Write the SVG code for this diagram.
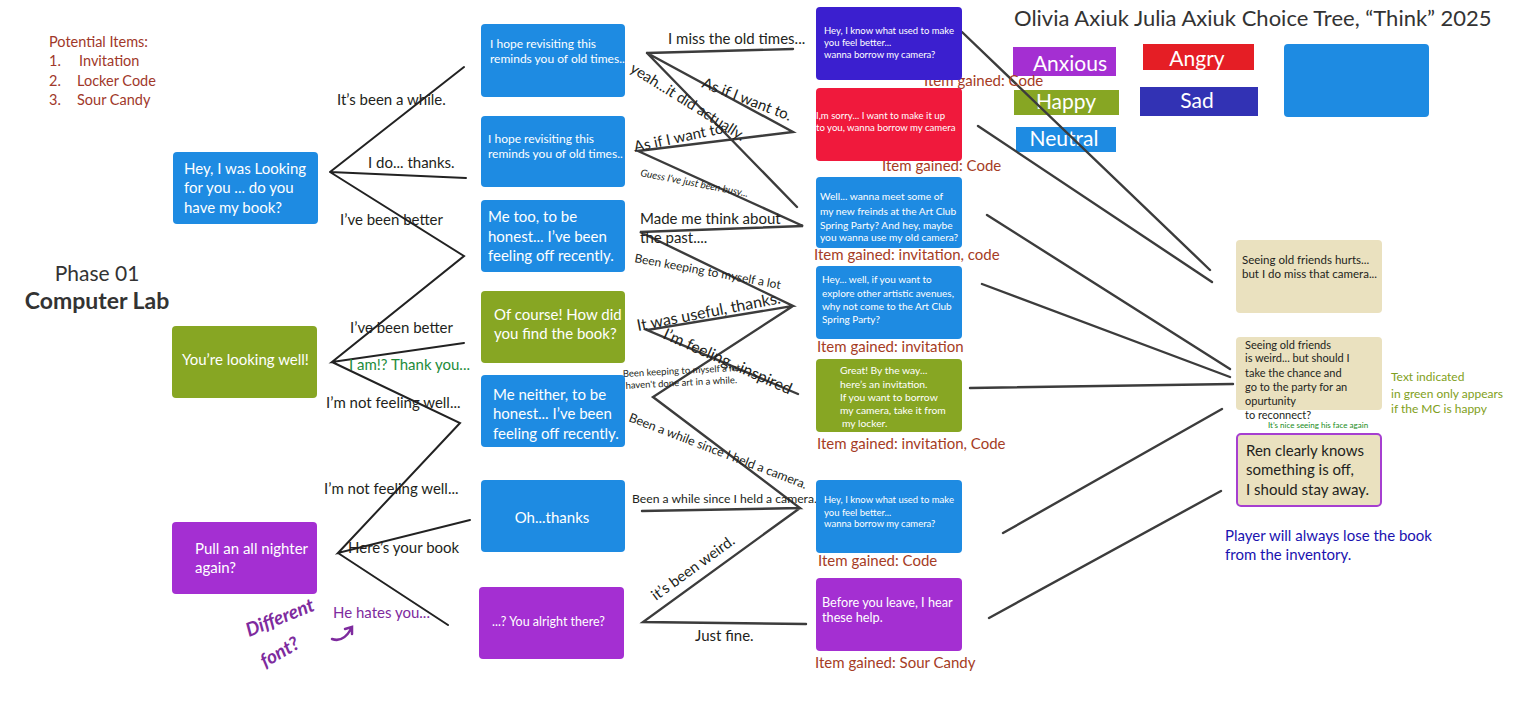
<svg xmlns="http://www.w3.org/2000/svg" width="1516" height="707" viewBox="0 0 1516 707">
<style>
text{font-family:Lato,"Liberation Sans",sans-serif;}
.bg{fill:#ffffff}
.blue{fill:#1E8BE2}
.green{fill:#87A623}
.purple{fill:#A42FD2}
.dblue{fill:#3B1FCF}
.red{fill:#F0193C}
.beige{fill:#EAE1BF}
.wt{fill:#ffffff}
.dk{fill:#231F20}
.item{fill:#A53C24;font-size:15px}
.ln{stroke:#222;stroke-width:2;fill:none;stroke-linecap:round}
.ln2{stroke:#3c3c3c;stroke-width:2.4;fill:none;stroke-linecap:round}
.lab{fill:#231F20;font-size:15px}
</style>
<rect class="bg" x="0" y="0" width="1516" height="707"/>

<g id="header">
<text x="1014" y="26" font-size="22" fill="#333">Olivia Axiuk Julia Axiuk Choice Tree, “Think” 2025</text>
</g>
<g id="legend">
<rect x="1013" y="47" width="103" height="29" class="purple"/>
<text x="1070" y="71" font-size="21" class="wt" text-anchor="middle">Anxious</text>
<rect x="1014" y="90" width="105" height="25" class="green"/>
<text x="1066" y="109" font-size="21" class="wt" text-anchor="middle">Happy</text>
<rect x="1016" y="127" width="100" height="25" class="blue"/>
<text x="1064" y="146" font-size="21" class="wt" text-anchor="middle">Neutral</text>
<rect x="1143" y="44" width="111" height="26" fill="#E51E25"/>
<text x="1197" y="66" font-size="21" class="wt" text-anchor="middle">Angry</text>
<rect x="1140" y="87" width="118" height="29" fill="#3232B4"/>
<text x="1197" y="108" font-size="21" class="wt" text-anchor="middle">Sad</text>
<rect x="1284" y="44" width="145" height="73" rx="4" class="blue"/>
</g>

<g id="notes">
<text font-size="14.5" fill="#A0382A"><tspan x="49" y="47">Potential Items:</tspan><tspan x="49" y="66">1.</tspan><tspan x="79" y="66">Invitation</tspan><tspan x="49" y="86">2.</tspan><tspan x="77" y="86">Locker Code</tspan><tspan x="49" y="105">3.</tspan><tspan x="77" y="105">Sour Candy</tspan></text>
<text x="97" y="281" font-size="21" fill="#333" text-anchor="middle">Phase 01</text>
<text x="97" y="309" font-size="23" font-weight="bold" fill="#333" text-anchor="middle">Computer Lab</text>
<text font-size="12" fill="#7FA020"><tspan x="1391" y="381">Text indicated</tspan><tspan x="1391" y="398">in green only appears</tspan><tspan x="1391" y="413">if the MC is happy</tspan></text>
<text font-size="15" fill="#1A12B0"><tspan x="1225" y="541">Player will always lose the book</tspan><tspan x="1225" y="560">from the inventory.</tspan></text>
<text x="249" y="637" font-size="19" font-style="italic" font-weight="bold" fill="#7E2B9E" font-family="DejaVu Sans, sans-serif" transform="rotate(-22 249 637)">Different</text>
<text x="265" y="668" font-size="19" font-style="italic" font-weight="bold" fill="#7E2B9E" font-family="DejaVu Sans, sans-serif" transform="rotate(-30 265 668)">font?</text>
<path d="M332,639 Q343,643 351,629 M345,629 L352,627 L352,634" stroke="#7E2B9E" stroke-width="2.5" fill="none" stroke-linecap="round"/>
</g>

<g id="connectors">
<path class="ln" d="M330,172 L464,67 M330,172 L466,178 M330,172 L464,256 L332,362 L464,343 M332,362 L460,423 L338,553 L470,520 M338,553 L448,625"/>
<path class="ln2" d="M647,53 L793,49 M647,53 L793,132 L638,151 L803,226 L640,232 L793,306 L647,330 L798,394 M647,53 L797,207 M793,306 L653,397 L800,508 L642,511 M800,508 L643,622 L806,624"/>
<path class="ln2" d="M962,32 L1210,270 M978,126 L1212,282 M987,215 L1230,369 M982,284 L1230,377 M970,388 L1233,384 M1003,533 L1222,409 M989,618 L1221,491"/>
</g>

<g id="labels">
<text class="lab" x="337" y="105">It’s been a while.</text>
<text class="lab" x="368" y="168">I do... thanks.</text>
<text class="lab" x="340" y="225">I’ve been better</text>
<text class="lab" x="350" y="333">I’ve been better</text>
<text class="lab" x="349" y="370" style="fill:#1E8B3A">I am!? Thank you...</text>
<text class="lab" x="326" y="408">I’m not feeling well...</text>
<text class="lab" x="324" y="494">I’m not feeling well...</text>
<text class="lab" x="348" y="553">Here’s your book</text>
<text class="lab" x="333" y="618" style="fill:#7E2B9E">He hates you...</text>

<text class="lab" x="668" y="44">I miss the old times...</text>
<text class="lab" x="701" y="87" transform="rotate(21 701 87)">As if I want to.</text>
<text class="lab" x="629" y="71" transform="rotate(32 629 71)">yeah...it did actually.</text>
<text class="lab" x="635" y="152" transform="rotate(-12 635 152)">As if I want to.</text>
<text x="640" y="176" font-size="10" font-style="italic" class="dk" transform="rotate(11 640 176)">Guess I’ve just been busy...</text>
<text class="lab"><tspan x="640" y="224">Made me think about</tspan><tspan x="640" y="243">the past....</tspan></text>
<text x="634" y="262" font-size="12" class="dk" transform="rotate(10.5 634 262)">Been keeping to myself a lot</text>
<text x="638" y="331" font-size="16" class="dk" transform="rotate(-11 638 331)">It was useful, thanks.</text>
<text x="662" y="338" font-size="16" class="dk" transform="rotate(24 662 338)">I’m feeling...inspired</text>
<text font-size="9.5" class="dk" transform="rotate(-3 623 377)"><tspan x="623" y="377">Been keeping to myself a lot</tspan><tspan x="625" y="389">haven't done art in a while.</tspan></text>
<text x="628" y="421" font-size="12.5" class="dk" transform="rotate(21 628 421)">Been a while since I held a camera.</text>
<text x="632" y="503" font-size="12.2" class="dk">Been a while since I held a camera.</text>
<text class="lab" x="656" y="601" transform="rotate(-36 656 601)">it’s been weird.</text>
<text class="lab" x="695" y="641">Just fine.</text>

<text class="item" x="924" y="86">Item gained: Code</text>
<text class="item" x="882" y="171">Item gained: Code</text>
<text class="item" x="814" y="260">Item gained: invitation, code</text>
<text class="item" x="817" y="352">Item gained: invitation</text>
<text class="item" x="817" y="449">Item gained: invitation, Code</text>
<text class="item" x="818" y="566">Item gained: Code</text>
<text class="item" x="815" y="668">Item gained: Sour Candy</text>
</g>

<g id="n-start1">
<rect x="173" y="152" width="145" height="72" rx="4" class="blue"/>
<text font-size="15" class="wt"><tspan x="184" y="174">Hey, I was Looking</tspan><tspan x="184" y="193">for you ... do you</tspan><tspan x="184" y="213">have my book?</tspan></text>
</g>
<g id="n-start2">
<rect x="172" y="326" width="145" height="72" rx="4" class="green"/>
<text x="182" y="365" font-size="15" class="wt">You’re looking well!</text>
</g>
<g id="n-start3">
<rect x="172" y="522" width="145" height="72" rx="4" class="purple"/>
<text font-size="15" class="wt"><tspan x="195" y="554">Pull an all nighter</tspan><tspan x="195" y="573">again?</tspan></text>
</g>

<g id="n-m1">
<rect x="481" y="24" width="144" height="73" rx="4" class="blue"/>
<text font-size="12" class="wt"><tspan x="490" y="48">I hope revisiting this</tspan><tspan x="490" y="63">reminds you of old times..</tspan></text>
</g>
<g id="n-m2">
<rect x="481" y="116" width="144" height="71" rx="4" class="blue"/>
<text font-size="12" class="wt"><tspan x="488" y="143">I hope revisiting this</tspan><tspan x="488" y="158">reminds you of old times..</tspan></text>
</g>
<g id="n-m3">
<rect x="481" y="200" width="144" height="72" rx="4" class="blue"/>
<text font-size="15" class="wt"><tspan x="488" y="222">Me too, to be</tspan><tspan x="488" y="242">honest... I’ve been</tspan><tspan x="488" y="261">feeling off recently.</tspan></text>
</g>
<g id="n-m4">
<rect x="481" y="291" width="144" height="72" rx="4" class="green"/>
<text font-size="15" class="wt"><tspan x="494" y="320">Of course! How did</tspan><tspan x="494" y="339">you find the book?</tspan></text>
</g>
<g id="n-m5">
<rect x="481" y="375" width="144" height="72" rx="4" class="blue"/>
<text font-size="15" class="wt"><tspan x="493" y="400">Me neither, to be</tspan><tspan x="493" y="419">honest... I’ve been</tspan><tspan x="493" y="439">feeling off recently.</tspan></text>
</g>
<g id="n-m6">
<rect x="481" y="480" width="144" height="72" rx="4" class="blue"/>
<text x="552" y="523" font-size="15" class="wt" text-anchor="middle">Oh...thanks</text>
</g>
<g id="n-m7">
<rect x="479" y="587" width="145" height="72" rx="4" class="purple"/>
<text x="492" y="626" font-size="12.5" class="wt">...? You alright there?</text>
</g>

<g id="n-r1">
<rect x="816" y="7" width="146" height="73" rx="4" class="dblue"/>
<text font-size="9.5" class="wt"><tspan x="824" y="34">Hey, I know what used to make</tspan><tspan x="824" y="46">you feel better...</tspan><tspan x="824" y="58">wanna borrow my camera?</tspan></text>
</g>
<g id="n-r2">
<rect x="816" y="88" width="146" height="73" rx="4" class="red"/>
<text font-size="9.6" class="wt"><tspan x="816" y="119">I,m sorry... I want to make it up</tspan><tspan x="816" y="131">to you, wanna borrow my camera</tspan></text>
</g>
<g id="n-r3">
<rect x="816" y="177" width="146" height="71" rx="4" class="blue"/>
<text font-size="10.2" class="wt"><tspan x="820" y="200">Well... wanna meet some of</tspan><tspan x="820" y="215">my new freinds at the Art Club</tspan><tspan x="820" y="229">Spring Party? And hey, maybe</tspan><tspan x="820" y="241">you wanna use my old camera?</tspan></text>
</g>
<g id="n-r4">
<rect x="816" y="266" width="146" height="73" rx="4" class="blue"/>
<text font-size="10" class="wt"><tspan x="822" y="283">Hey... well, if  you want to</tspan><tspan x="822" y="297">explore other artistic avenues,</tspan><tspan x="822" y="310">why not come to the Art Club</tspan><tspan x="822" y="323">Spring Party?</tspan></text>
</g>
<g id="n-r5">
<rect x="816" y="359" width="146" height="73" rx="4" class="green"/>
<text font-size="10.3" class="wt"><tspan x="840" y="374">Great! By the way...</tspan><tspan x="840" y="388">here’s an invitation.</tspan><tspan x="840" y="401">If you want to borrow</tspan><tspan x="840" y="414">my camera, take it from</tspan><tspan x="842" y="427">my locker.</tspan></text>
</g>
<g id="n-r6">
<rect x="816" y="480" width="146" height="73" rx="4" class="blue"/>
<text font-size="9.5" class="wt"><tspan x="824" y="503">Hey, I know what used to make</tspan><tspan x="824" y="516">you feel better...</tspan><tspan x="824" y="527">wanna borrow my camera?</tspan></text>
</g>
<g id="n-r7">
<rect x="816" y="578" width="146" height="73" rx="4" class="purple"/>
<text font-size="12.7" class="wt"><tspan x="822" y="607">Before you leave, I hear</tspan><tspan x="822" y="622">these help.</tspan></text>
</g>

<g id="n-e1">
<rect x="1236" y="240" width="146" height="73" rx="4" class="beige"/>
<text font-size="11.5" class="dk"><tspan x="1242" y="264">Seeing old friends hurts...</tspan><tspan x="1242" y="278">but I do miss that camera...</tspan></text>
</g>
<g id="n-e2">
<rect x="1236" y="337" width="146" height="73" rx="4" class="beige"/>
<text font-size="11" class="dk"><tspan x="1245" y="349">Seeing old friends</tspan><tspan x="1245" y="362">is weird... but should I</tspan><tspan x="1245" y="377">take the chance and</tspan><tspan x="1245" y="391">go to the party for an</tspan><tspan x="1245" y="405">opurtunity</tspan><tspan x="1245" y="419">to reconnect?</tspan></text>
<text x="1268" y="428" font-size="8" fill="#1A8C1A">It’s nice seeing his face again</text>
</g>
<g id="n-e3">
<rect x="1237" y="434" width="144" height="72" rx="4" class="beige" stroke="#A63FD0" stroke-width="2"/>
<text font-size="15" class="dk"><tspan x="1246" y="456">Ren clearly knows</tspan><tspan x="1246" y="475">something is off,</tspan><tspan x="1246" y="495">I should stay away.</tspan></text>
</g>
</svg>
